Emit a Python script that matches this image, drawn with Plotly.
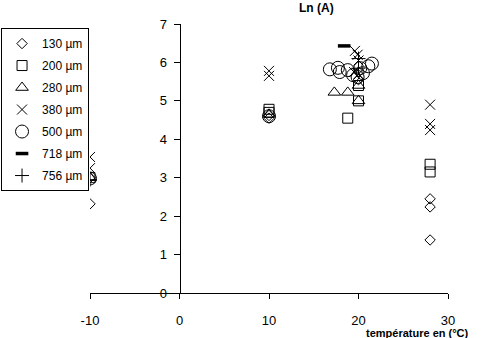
import plotly.graph_objects as go

# Data
names = ["130 µm", "200 µm", "280 µm", "380 µm", "500 µm", "718 µm", "756 µm"]

x_130 = [-10, -10, 10, 10, 20, 20, 28, 28, 28]
y_130 = [2.32, 3.0, 4.62, 4.55, 5.55, 5.75, 2.45, 2.24, 1.38]

x_200 = [-10, 10, 10, 18.8, 20, 20, 28, 28]
y_200 = [3.0, 4.78, 4.7, 4.55, 5.4, 5.0, 3.35, 3.15]

x_280 = [-10, 10, 17.3, 18.8, 20, 20]
y_280 = [3.0, 4.65, 5.22, 5.22, 5.4, 5.0]

x_380 = [-10, -10, 10, 10, 19.6, 19.9, 20, 20, 19.5, 28, 28, 28]
y_380 = [3.54, 3.25, 5.78, 5.65, 6.3, 6.2, 6.05, 5.7, 5.75, 4.9, 4.4, 4.24]

x_500 = [-10, 10, 16.8, 17.7, 17.9, 18.8, 19.4, 19.9, 20.2, 20.5, 21.1, 21.5]
y_500 = [2.98, 4.6, 5.82, 5.86, 5.75, 5.8, 5.67, 5.62, 5.85, 5.72, 5.9, 5.97]

x_718 = [18.4]
y_718 = [6.43]

x_756 = [-10, 20, 20]
y_756 = [2.95, 6.1, 5.85]

x_ticks = [-10, 0, 10, 20, 30]
x_tick_labels = ["-10", "0", "10", "20", "30"]
y_ticks = [0, 1, 2, 3, 4, 5, 6, 7]

xs = [x_130, x_200, x_280, x_380, x_500, x_718, x_756]
ys = [y_130, y_200, y_280, y_380, y_500, y_718, y_756]
symbols = ["diamond-open", "square-open", "triangle-up-open", "x-thin-open",
           "circle-open", "line-ew-open", "cross-thin-open"]
sizes = [8, 10, 11, 10, 13, 9, 10]
lws = [1, 1, 1, 1, 1, 3.5, 1]

FONT = "Arial, Liberation Sans, sans-serif"

fig = go.Figure()
for n, x, y, s, sz, lw in zip(names, xs, ys, symbols, sizes, lws):
    fig.add_trace(go.Scatter(
        x=x, y=y, mode="markers", name=n, legendgroup=n,
        marker=dict(symbol=s, size=sz, color="black",
                    line=dict(color="black", width=lw)),
    ))

fig.update_layout(
    width=484, height=338,
    margin=dict(l=90, r=36, t=24, b=45, autoexpand=False),
    paper_bgcolor="white", plot_bgcolor="white",
    font=dict(family=FONT, size=13, color="black"),
    showlegend=True,
    legend=dict(
        x=-0.2485, y=0.985, xanchor="left", yanchor="top",
        bordercolor="black", borderwidth=1, bgcolor="rgba(255,255,255,0)",
        font=dict(size=12, family=FONT), tracegroupgap=3,
        itemwidth=30, itemsizing="trace",
    ),
    xaxis=dict(
        range=[-10, 30], tickvals=x_ticks, ticktext=x_tick_labels,
        showgrid=False, zeroline=False, showline=True, linecolor="black",
        linewidth=1, ticks="outside", ticklen=5, tickcolor="black",
        tickfont=dict(size=13), anchor="y", ticklabelstandoff=10,
    ),
    yaxis=dict(
        range=[0, 7], tickvals=y_ticks,
        showgrid=False, zeroline=False, showline=True, linecolor="black",
        linewidth=1, ticks="outside", ticklen=6, tickcolor="black",
        tickfont=dict(size=13), anchor="free", position=0.25,
        ticklabelstandoff=4,
    ),
    annotations=[
        dict(text="<b>Ln (A)</b>", xref="paper", yref="paper",
             x=0.634, y=1.058, xanchor="center", yanchor="middle",
             showarrow=False, font=dict(size=12, family=FONT)),
        dict(text="<b>température en (°C)</b>", xref="paper", yref="paper",
             x=0.915, y=-0.15, xanchor="center", yanchor="middle",
             showarrow=False, font=dict(size=11, family=FONT)),
    ],
)

fig.write_html("out.html")
